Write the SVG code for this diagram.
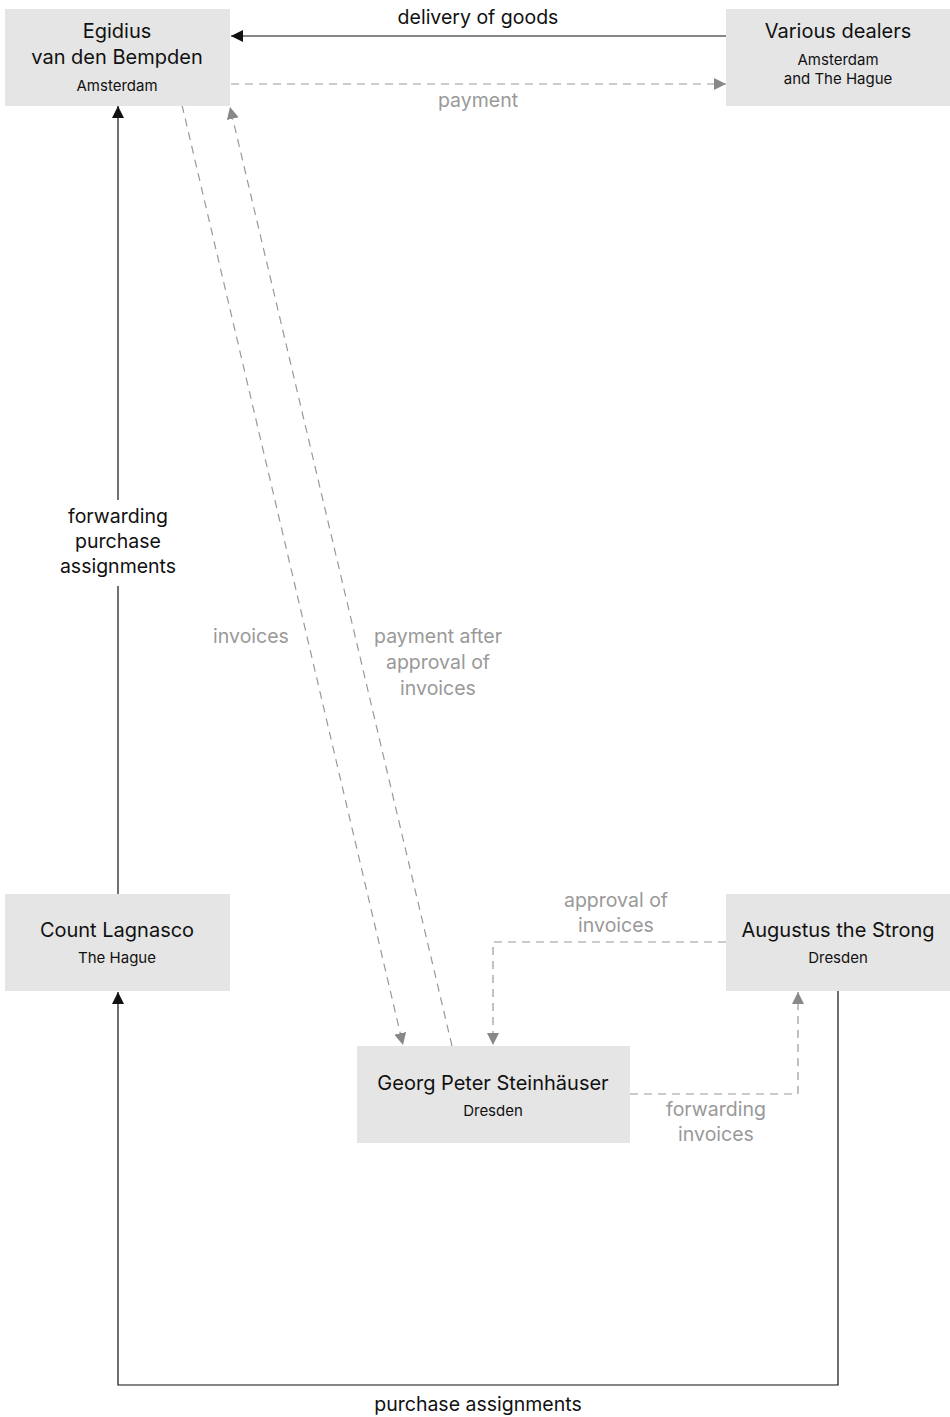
<svg xmlns="http://www.w3.org/2000/svg" width="950" height="1417" viewBox="0 0 950 1417">
<style>
.box{fill:#e5e5e5}
.t{font-family:Inter,"Liberation Sans",sans-serif;font-size:20px;fill:#111;text-anchor:middle}
.s{font-family:Inter,"Liberation Sans",sans-serif;font-size:15px;fill:#111;text-anchor:middle}
.l{font-family:Inter,"Liberation Sans",sans-serif;font-size:19.5px;fill:#111;text-anchor:middle}
.lg{font-family:Inter,"Liberation Sans",sans-serif;font-size:19.5px;fill:#999;text-anchor:middle}
.solid{fill:none;stroke:#111;stroke-width:1.2}
.dash{fill:none;stroke:#999;stroke-width:1.2;stroke-dasharray:8 6}
</style>
<defs>
<marker id="ab" viewBox="0 0 10 10" refX="10" refY="5" markerWidth="12" markerHeight="12" markerUnits="userSpaceOnUse" orient="auto"><path d="M0,0 L10,5 L0,10 z" fill="#111"/></marker>
<marker id="ag" viewBox="0 0 10 10" refX="10" refY="5" markerWidth="12" markerHeight="12" markerUnits="userSpaceOnUse" orient="auto"><path d="M0,0 L10,5 L0,10 z" fill="#888"/></marker>
</defs>
<g id="connectors">
<line class="solid" x1="726" y1="36" x2="231" y2="36" marker-end="url(#ab)"/>
<line class="dash" x1="231" y1="84" x2="726" y2="84" marker-end="url(#ag)"/>
<line class="solid" x1="118" y1="894" x2="118" y2="106" marker-end="url(#ab)"/>
<line class="dash" x1="182" y1="105" x2="403" y2="1045" marker-end="url(#ag)"/>
<line class="dash" x1="452" y1="1046" x2="230" y2="107" marker-end="url(#ag)"/>
<polyline class="dash" points="726,942 493,942 493,1045" marker-end="url(#ag)"/>
<polyline class="dash" points="630,1094 798,1094 798,992" marker-end="url(#ag)"/>
<polyline class="solid" points="838,991 838,1385 118,1385 118,992" marker-end="url(#ab)"/>
<rect x="50" y="500" width="136" height="86" fill="#fff"/>
<text class="l" x="478" y="24">delivery of goods</text>
<text class="lg" x="478" y="107">payment</text>
<text class="l" x="118" y="523">forwarding</text>
<text class="l" x="118" y="548">purchase</text>
<text class="l" x="118" y="573">assignments</text>
<text class="lg" x="251" y="643">invoices</text>
<text class="lg" x="438" y="643">payment after</text>
<text class="lg" x="438" y="669">approval of</text>
<text class="lg" x="438" y="695">invoices</text>
<text class="lg" x="616" y="907">approval of</text>
<text class="lg" x="616" y="932">invoices</text>
<text class="lg" x="716" y="1116">forwarding</text>
<text class="lg" x="716" y="1141">invoices</text>
<text class="l" x="478" y="1411">purchase assignments</text>
</g>
<g id="egidius">
<rect class="box" x="5" y="9" width="225" height="97"/>
<text class="t" x="117" y="38">Egidius</text>
<text class="t" x="117" y="64">van den Bempden</text>
<text class="s" x="117" y="91">Amsterdam</text>
</g>
<g id="dealers">
<rect class="box" x="726" y="9" width="224" height="97"/>
<text class="t" x="838" y="38">Various dealers</text>
<text class="s" x="838" y="65">Amsterdam</text>
<text class="s" x="838" y="84">and The Hague</text>
</g>
<g id="lagnasco">
<rect class="box" x="5" y="894" width="225" height="97"/>
<text class="t" x="117" y="937">Count Lagnasco</text>
<text class="s" x="117" y="963">The Hague</text>
</g>
<g id="augustus">
<rect class="box" x="726" y="894" width="224" height="97"/>
<text class="t" x="838" y="937">Augustus the Strong</text>
<text class="s" x="838" y="963">Dresden</text>
</g>
<g id="georg">
<rect class="box" x="357" y="1046" width="273" height="97"/>
<text class="t" x="493" y="1090">Georg Peter Steinhäuser</text>
<text class="s" x="493" y="1116">Dresden</text>
</g>
</svg>
